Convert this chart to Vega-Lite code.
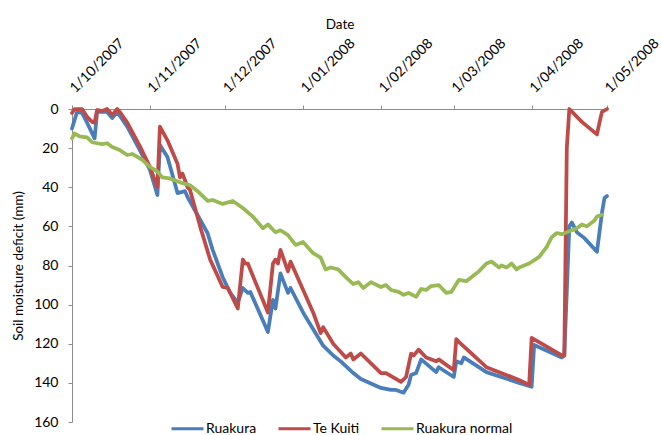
{
  "$schema": "https://vega.github.io/schema/vega-lite/v6.json",
  "width": 535,
  "height": 313,
  "autosize": "none",
  "padding": {"left": 72, "top": 109, "right": 54, "bottom": 13},
  "config": {
    "view": {"stroke": null},
    "font": "Lato",
    "axis": {"labelFont": "Lato", "titleFont": "Lato", "labelFontSize": 14, "titleFontSize": 13.5, "titleFontWeight": "normal", "labelColor": "#000", "titleColor": "#000", "domainColor": "#8c8c8c", "tickColor": "#8c8c8c", "tickSize": 4, "grid": false}
  },
  "data": {
    "values": [
      {"d": "2007/10/01", "s": "Ruakura", "v": 10},
      {"d": "2007/10/03", "s": "Ruakura", "v": 1.5},
      {"d": "2007/10/05", "s": "Ruakura", "v": 2},
      {"d": "2007/10/07", "s": "Ruakura", "v": 7},
      {"d": "2007/10/10", "s": "Ruakura", "v": 15},
      {"d": "2007/10/11", "s": "Ruakura", "v": 1.5},
      {"d": "2007/10/15", "s": "Ruakura", "v": 1.5},
      {"d": "2007/10/17", "s": "Ruakura", "v": 4.6},
      {"d": "2007/10/19", "s": "Ruakura", "v": 1.5},
      {"d": "2007/10/23", "s": "Ruakura", "v": 9},
      {"d": "2007/10/28", "s": "Ruakura", "v": 21},
      {"d": "2007/11/01", "s": "Ruakura", "v": 31},
      {"d": "2007/11/04", "s": "Ruakura", "v": 44},
      {"d": "2007/11/05", "s": "Ruakura", "v": 18.4},
      {"d": "2007/11/08", "s": "Ruakura", "v": 24.5},
      {"d": "2007/11/12", "s": "Ruakura", "v": 43},
      {"d": "2007/11/15", "s": "Ruakura", "v": 42},
      {"d": "2007/11/16", "s": "Ruakura", "v": 45},
      {"d": "2007/11/24", "s": "Ruakura", "v": 63.5},
      {"d": "2007/11/26", "s": "Ruakura", "v": 72},
      {"d": "2007/11/30", "s": "Ruakura", "v": 86},
      {"d": "2007/12/03", "s": "Ruakura", "v": 94},
      {"d": "2007/12/06", "s": "Ruakura", "v": 99},
      {"d": "2007/12/08", "s": "Ruakura", "v": 91.5},
      {"d": "2007/12/10", "s": "Ruakura", "v": 94},
      {"d": "2007/12/11", "s": "Ruakura", "v": 93.5},
      {"d": "2007/12/18", "s": "Ruakura", "v": 114},
      {"d": "2007/12/20", "s": "Ruakura", "v": 97.6},
      {"d": "2007/12/21", "s": "Ruakura", "v": 102},
      {"d": "2007/12/23", "s": "Ruakura", "v": 84},
      {"d": "2007/12/26", "s": "Ruakura", "v": 94},
      {"d": "2007/12/27", "s": "Ruakura", "v": 91.5},
      {"d": "2008/01/01", "s": "Ruakura", "v": 104},
      {"d": "2008/01/09", "s": "Ruakura", "v": 121},
      {"d": "2008/01/13", "s": "Ruakura", "v": 126},
      {"d": "2008/01/16", "s": "Ruakura", "v": 129},
      {"d": "2008/01/21", "s": "Ruakura", "v": 135},
      {"d": "2008/01/24", "s": "Ruakura", "v": 138},
      {"d": "2008/02/01", "s": "Ruakura", "v": 142.6},
      {"d": "2008/02/05", "s": "Ruakura", "v": 143.6},
      {"d": "2008/02/07", "s": "Ruakura", "v": 143.6},
      {"d": "2008/02/10", "s": "Ruakura", "v": 145},
      {"d": "2008/02/12", "s": "Ruakura", "v": 141},
      {"d": "2008/02/13", "s": "Ruakura", "v": 136},
      {"d": "2008/02/15", "s": "Ruakura", "v": 135},
      {"d": "2008/02/17", "s": "Ruakura", "v": 128},
      {"d": "2008/02/23", "s": "Ruakura", "v": 134.5},
      {"d": "2008/02/24", "s": "Ruakura", "v": 132},
      {"d": "2008/03/01", "s": "Ruakura", "v": 137},
      {"d": "2008/03/02", "s": "Ruakura", "v": 129},
      {"d": "2008/03/04", "s": "Ruakura", "v": 130},
      {"d": "2008/03/05", "s": "Ruakura", "v": 127},
      {"d": "2008/03/14", "s": "Ruakura", "v": 134.5},
      {"d": "2008/03/27", "s": "Ruakura", "v": 140},
      {"d": "2008/04/01", "s": "Ruakura", "v": 142},
      {"d": "2008/04/02", "s": "Ruakura", "v": 120.6},
      {"d": "2008/04/13", "s": "Ruakura", "v": 127},
      {"d": "2008/04/14", "s": "Ruakura", "v": 126},
      {"d": "2008/04/16", "s": "Ruakura", "v": 60},
      {"d": "2008/04/17", "s": "Ruakura", "v": 58},
      {"d": "2008/04/19", "s": "Ruakura", "v": 63},
      {"d": "2008/04/22", "s": "Ruakura", "v": 66},
      {"d": "2008/04/27", "s": "Ruakura", "v": 73},
      {"d": "2008/04/29", "s": "Ruakura", "v": 53},
      {"d": "2008/04/30", "s": "Ruakura", "v": 45.5},
      {"d": "2008/05/01", "s": "Ruakura", "v": 44.5},

      {"d": "2007/10/01", "s": "Te Kuiti", "v": 2},
      {"d": "2007/10/02", "s": "Te Kuiti", "v": 0},
      {"d": "2007/10/05", "s": "Te Kuiti", "v": 0},
      {"d": "2007/10/07", "s": "Te Kuiti", "v": 4},
      {"d": "2007/10/09", "s": "Te Kuiti", "v": 6.6},
      {"d": "2007/10/10", "s": "Te Kuiti", "v": 7},
      {"d": "2007/10/11", "s": "Te Kuiti", "v": 0.5},
      {"d": "2007/10/13", "s": "Te Kuiti", "v": 1},
      {"d": "2007/10/15", "s": "Te Kuiti", "v": 0},
      {"d": "2007/10/17", "s": "Te Kuiti", "v": 3},
      {"d": "2007/10/19", "s": "Te Kuiti", "v": 0},
      {"d": "2007/10/20", "s": "Te Kuiti", "v": 1.5},
      {"d": "2007/10/23", "s": "Te Kuiti", "v": 7},
      {"d": "2007/10/28", "s": "Te Kuiti", "v": 19},
      {"d": "2007/11/01", "s": "Te Kuiti", "v": 29.6},
      {"d": "2007/11/04", "s": "Te Kuiti", "v": 40},
      {"d": "2007/11/05", "s": "Te Kuiti", "v": 9},
      {"d": "2007/11/08", "s": "Te Kuiti", "v": 16},
      {"d": "2007/11/12", "s": "Te Kuiti", "v": 28},
      {"d": "2007/11/13", "s": "Te Kuiti", "v": 35},
      {"d": "2007/11/14", "s": "Te Kuiti", "v": 33},
      {"d": "2007/11/16", "s": "Te Kuiti", "v": 40},
      {"d": "2007/11/17", "s": "Te Kuiti", "v": 41.4},
      {"d": "2007/11/21", "s": "Te Kuiti", "v": 60},
      {"d": "2007/11/25", "s": "Te Kuiti", "v": 77},
      {"d": "2007/11/30", "s": "Te Kuiti", "v": 91},
      {"d": "2007/12/02", "s": "Te Kuiti", "v": 91.5},
      {"d": "2007/12/06", "s": "Te Kuiti", "v": 102},
      {"d": "2007/12/08", "s": "Te Kuiti", "v": 77},
      {"d": "2007/12/09", "s": "Te Kuiti", "v": 79},
      {"d": "2007/12/10", "s": "Te Kuiti", "v": 79},
      {"d": "2007/12/18", "s": "Te Kuiti", "v": 104},
      {"d": "2007/12/20", "s": "Te Kuiti", "v": 79},
      {"d": "2007/12/21", "s": "Te Kuiti", "v": 77},
      {"d": "2007/12/22", "s": "Te Kuiti", "v": 79},
      {"d": "2007/12/23", "s": "Te Kuiti", "v": 72},
      {"d": "2007/12/26", "s": "Te Kuiti", "v": 83},
      {"d": "2007/12/27", "s": "Te Kuiti", "v": 78},
      {"d": "2008/01/05", "s": "Te Kuiti", "v": 104},
      {"d": "2008/01/08", "s": "Te Kuiti", "v": 114.5},
      {"d": "2008/01/09", "s": "Te Kuiti", "v": 111.5},
      {"d": "2008/01/13", "s": "Te Kuiti", "v": 120},
      {"d": "2008/01/18", "s": "Te Kuiti", "v": 127},
      {"d": "2008/01/20", "s": "Te Kuiti", "v": 125},
      {"d": "2008/01/21", "s": "Te Kuiti", "v": 128},
      {"d": "2008/01/24", "s": "Te Kuiti", "v": 125},
      {"d": "2008/02/01", "s": "Te Kuiti", "v": 135},
      {"d": "2008/02/03", "s": "Te Kuiti", "v": 135},
      {"d": "2008/02/09", "s": "Te Kuiti", "v": 139.5},
      {"d": "2008/02/11", "s": "Te Kuiti", "v": 137},
      {"d": "2008/02/13", "s": "Te Kuiti", "v": 125},
      {"d": "2008/02/14", "s": "Te Kuiti", "v": 126},
      {"d": "2008/02/16", "s": "Te Kuiti", "v": 123},
      {"d": "2008/02/19", "s": "Te Kuiti", "v": 127},
      {"d": "2008/02/23", "s": "Te Kuiti", "v": 129},
      {"d": "2008/02/24", "s": "Te Kuiti", "v": 128},
      {"d": "2008/03/01", "s": "Te Kuiti", "v": 133.5},
      {"d": "2008/03/02", "s": "Te Kuiti", "v": 117.6},
      {"d": "2008/03/03", "s": "Te Kuiti", "v": 119},
      {"d": "2008/03/14", "s": "Te Kuiti", "v": 132},
      {"d": "2008/03/27", "s": "Te Kuiti", "v": 138.5},
      {"d": "2008/03/31", "s": "Te Kuiti", "v": 141},
      {"d": "2008/04/01", "s": "Te Kuiti", "v": 117},
      {"d": "2008/04/13", "s": "Te Kuiti", "v": 126},
      {"d": "2008/04/14", "s": "Te Kuiti", "v": 126},
      {"d": "2008/04/15", "s": "Te Kuiti", "v": 20},
      {"d": "2008/04/16", "s": "Te Kuiti", "v": 0},
      {"d": "2008/04/21", "s": "Te Kuiti", "v": 6.6},
      {"d": "2008/04/27", "s": "Te Kuiti", "v": 13},
      {"d": "2008/04/28", "s": "Te Kuiti", "v": 7},
      {"d": "2008/04/29", "s": "Te Kuiti", "v": 1.5},
      {"d": "2008/05/01", "s": "Te Kuiti", "v": 0},

      {"d": "2007/10/01", "s": "Ruakura normal", "v": 15},
      {"d": "2007/10/02", "s": "Ruakura normal", "v": 12.5},
      {"d": "2007/10/04", "s": "Ruakura normal", "v": 14},
      {"d": "2007/10/07", "s": "Ruakura normal", "v": 14.5},
      {"d": "2007/10/09", "s": "Ruakura normal", "v": 17},
      {"d": "2007/10/11", "s": "Ruakura normal", "v": 17.5},
      {"d": "2007/10/13", "s": "Ruakura normal", "v": 18},
      {"d": "2007/10/15", "s": "Ruakura normal", "v": 17.5},
      {"d": "2007/10/17", "s": "Ruakura normal", "v": 19.4},
      {"d": "2007/10/20", "s": "Ruakura normal", "v": 21},
      {"d": "2007/10/23", "s": "Ruakura normal", "v": 23.5},
      {"d": "2007/10/25", "s": "Ruakura normal", "v": 23},
      {"d": "2007/10/27", "s": "Ruakura normal", "v": 24.5},
      {"d": "2007/10/29", "s": "Ruakura normal", "v": 26},
      {"d": "2007/11/01", "s": "Ruakura normal", "v": 29.6},
      {"d": "2007/11/04", "s": "Ruakura normal", "v": 32},
      {"d": "2007/11/06", "s": "Ruakura normal", "v": 35},
      {"d": "2007/11/09", "s": "Ruakura normal", "v": 35.5},
      {"d": "2007/11/13", "s": "Ruakura normal", "v": 37.5},
      {"d": "2007/11/17", "s": "Ruakura normal", "v": 39},
      {"d": "2007/11/20", "s": "Ruakura normal", "v": 42},
      {"d": "2007/11/24", "s": "Ruakura normal", "v": 47},
      {"d": "2007/11/26", "s": "Ruakura normal", "v": 46.5},
      {"d": "2007/11/30", "s": "Ruakura normal", "v": 48.5},
      {"d": "2007/12/04", "s": "Ruakura normal", "v": 47},
      {"d": "2007/12/08", "s": "Ruakura normal", "v": 50.6},
      {"d": "2007/12/12", "s": "Ruakura normal", "v": 55},
      {"d": "2007/12/16", "s": "Ruakura normal", "v": 61},
      {"d": "2007/12/18", "s": "Ruakura normal", "v": 59},
      {"d": "2007/12/21", "s": "Ruakura normal", "v": 63},
      {"d": "2007/12/23", "s": "Ruakura normal", "v": 62},
      {"d": "2007/12/26", "s": "Ruakura normal", "v": 64.5},
      {"d": "2007/12/29", "s": "Ruakura normal", "v": 69.5},
      {"d": "2008/01/01", "s": "Ruakura normal", "v": 68},
      {"d": "2008/01/05", "s": "Ruakura normal", "v": 73.7},
      {"d": "2008/01/08", "s": "Ruakura normal", "v": 76},
      {"d": "2008/01/10", "s": "Ruakura normal", "v": 82},
      {"d": "2008/01/12", "s": "Ruakura normal", "v": 81},
      {"d": "2008/01/15", "s": "Ruakura normal", "v": 82},
      {"d": "2008/01/18", "s": "Ruakura normal", "v": 86},
      {"d": "2008/01/21", "s": "Ruakura normal", "v": 89.5},
      {"d": "2008/01/23", "s": "Ruakura normal", "v": 88.5},
      {"d": "2008/01/25", "s": "Ruakura normal", "v": 91.5},
      {"d": "2008/01/28", "s": "Ruakura normal", "v": 88.5},
      {"d": "2008/02/01", "s": "Ruakura normal", "v": 91},
      {"d": "2008/02/03", "s": "Ruakura normal", "v": 90},
      {"d": "2008/02/05", "s": "Ruakura normal", "v": 92.5},
      {"d": "2008/02/08", "s": "Ruakura normal", "v": 93.5},
      {"d": "2008/02/10", "s": "Ruakura normal", "v": 95},
      {"d": "2008/02/12", "s": "Ruakura normal", "v": 94},
      {"d": "2008/02/15", "s": "Ruakura normal", "v": 96},
      {"d": "2008/02/17", "s": "Ruakura normal", "v": 92},
      {"d": "2008/02/19", "s": "Ruakura normal", "v": 92.5},
      {"d": "2008/02/21", "s": "Ruakura normal", "v": 90.5},
      {"d": "2008/02/24", "s": "Ruakura normal", "v": 90},
      {"d": "2008/02/27", "s": "Ruakura normal", "v": 94},
      {"d": "2008/02/29", "s": "Ruakura normal", "v": 93.5},
      {"d": "2008/03/03", "s": "Ruakura normal", "v": 87.4},
      {"d": "2008/03/06", "s": "Ruakura normal", "v": 88},
      {"d": "2008/03/08", "s": "Ruakura normal", "v": 86},
      {"d": "2008/03/11", "s": "Ruakura normal", "v": 83},
      {"d": "2008/03/14", "s": "Ruakura normal", "v": 79},
      {"d": "2008/03/16", "s": "Ruakura normal", "v": 78},
      {"d": "2008/03/19", "s": "Ruakura normal", "v": 81},
      {"d": "2008/03/20", "s": "Ruakura normal", "v": 80},
      {"d": "2008/03/22", "s": "Ruakura normal", "v": 81},
      {"d": "2008/03/24", "s": "Ruakura normal", "v": 79},
      {"d": "2008/03/26", "s": "Ruakura normal", "v": 82},
      {"d": "2008/03/27", "s": "Ruakura normal", "v": 81},
      {"d": "2008/03/31", "s": "Ruakura normal", "v": 79},
      {"d": "2008/04/04", "s": "Ruakura normal", "v": 75.6},
      {"d": "2008/04/07", "s": "Ruakura normal", "v": 70.5},
      {"d": "2008/04/09", "s": "Ruakura normal", "v": 65.5},
      {"d": "2008/04/11", "s": "Ruakura normal", "v": 63.4},
      {"d": "2008/04/13", "s": "Ruakura normal", "v": 64},
      {"d": "2008/04/15", "s": "Ruakura normal", "v": 63},
      {"d": "2008/04/17", "s": "Ruakura normal", "v": 62},
      {"d": "2008/04/19", "s": "Ruakura normal", "v": 61},
      {"d": "2008/04/21", "s": "Ruakura normal", "v": 59},
      {"d": "2008/04/23", "s": "Ruakura normal", "v": 60},
      {"d": "2008/04/26", "s": "Ruakura normal", "v": 57},
      {"d": "2008/04/27", "s": "Ruakura normal", "v": 55},
      {"d": "2008/04/29", "s": "Ruakura normal", "v": 54}
    ]
  },
  "mark": {"type": "line", "strokeWidth": 3.75, "strokeJoin": "round", "strokeCap": "round"},
  "encoding": {
    "x": {
      "field": "d", "type": "temporal", "title": "Date",
      "scale": {"domain": [{"year": 2007, "month": 10, "date": 1}, {"year": 2008, "month": 5, "date": 1}], "nice": false},
      "axis": {
        "orient": "top", "format": "%-d/%m/%Y", "labelAngle": -45, "labelAlign": "left", "labelBaseline": "alphabetic", "labelPadding": 12, "labelOffset": 3, "titlePadding": 5,
        "values": [
          {"year": 2007, "month": 10, "date": 1}, {"year": 2007, "month": 11, "date": 1}, {"year": 2007, "month": 12, "date": 1},
          {"year": 2008, "month": 1, "date": 1}, {"year": 2008, "month": 2, "date": 1}, {"year": 2008, "month": 3, "date": 1},
          {"year": 2008, "month": 4, "date": 1}, {"year": 2008, "month": 5, "date": 1}
        ],
        "labelOverlap": false, "labelFlush": false
      }
    },
    "y": {
      "field": "v", "type": "quantitative", "title": "Soil moisture deficit (mm)",
      "scale": {"domain": [0, 160], "reverse": true, "nice": false},
      "axis": {"values": [0, 20, 40, 60, 80, 100, 120, 140, 160], "labelPadding": 10, "titlePadding": 8}
    },
    "color": {
      "field": "s", "type": "nominal", "title": null,
      "scale": {"domain": ["Ruakura", "Te Kuiti", "Ruakura normal"], "range": ["#4A7EBB", "#BE4B48", "#98B954"]},
      "legend": {"orient": "none", "direction": "horizontal", "legendX": 98, "legendY": 302, "symbolType": "stroke", "symbolSize": 1024, "symbolStrokeWidth": 3, "labelFont": "Lato", "labelFontSize": 14, "labelColor": "#000", "labelOffset": 1, "columnPadding": 15, "padding": 0}
    }
  }
}
